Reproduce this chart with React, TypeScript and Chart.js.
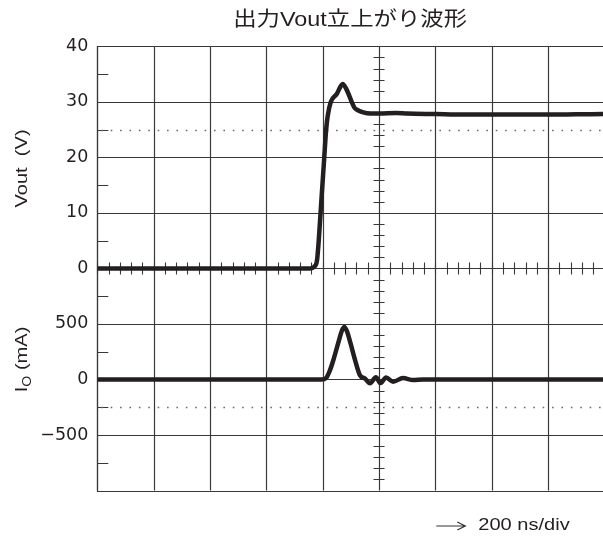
import React, { useEffect, useRef } from 'react';
import { Chart, registerables } from 'chart.js';

Chart.register(...registerables);

// ---- data (time in ns from left edge of the screen) ----
const voutTime = [0, 755, 770, 780, 786, 795, 805, 812, 818, 829, 850, 871, 885, 903, 912, 921, 944, 970, 1000, 1060, 1100, 1200, 1300, 1450, 1600, 1700, 1795];
const voutValues = [0, 0, 0.3, 1.5, 5, 12, 19.5, 24.8, 27.5, 30, 31.4, 33.2, 32.2, 30, 29.0, 28.6, 28.1, 27.9, 27.9, 28.0, 27.9, 27.8, 27.7, 27.7, 27.7, 27.75, 27.8];

const ioTime = [0, 796, 812, 826, 838, 855, 869, 877, 886, 899, 915, 932, 950, 968, 989, 1005, 1025, 1050, 1085, 1121, 1156, 1795];
const ioValues = [0, 0, 12, 84, 175, 327, 444, 473, 435, 324, 174, 39, 8, -35, 20, -33, 18, -20, 12, -5, 0, 0];

// ---- axes / scope settings ----
const voutTicks = [0, 10, 20, 30, 40];
const ioTicks = [500, 0, -500];
const ioTickText = ['500', '0', '\u2212500'];
const voutRange = [-40, 40];
const ioRange = [-1000, 3000];
const voutStep = 10;
const timeDiv = 200; // ns per division
const timeRange = [0, 1795];
const centerTime = 1000;
const dottedVout = 25;
const dottedIo = -250;

const titleText = '出力Vout立上がり波形';
const voutTitle = 'Vout  (V)';
const ioTitleMain = 'I';
const ioTitleSub = 'O';
const ioTitleRest = ' (mA)';
const timeNote = '200 ns/div';

const FONT = "'Liberation Sans', Arial, 'Noto Sans CJK JP', sans-serif";
const TICK_FONT = "'DejaVu Sans', 'Liberation Sans', sans-serif";
const TRACE = '#231f20';
const GRID = '#383838';
const STRETCH = 1.18;

const ioToY = (io: number) =>
  voutRange[0] + ((io - ioRange[0]) / (ioRange[1] - ioRange[0])) * (voutRange[1] - voutRange[0]);

const scopePlugin = {
  id: 'scope',
  beforeDatasetsDraw(chart: any) {
    const { ctx, chartArea: a, scales } = chart;
    const x = scales.x;
    const y = scales.y;
    const yI = scales.yI;
    const crisp = (p: number) => Math.round(p) + 0.5;
    ctx.save();
    ctx.beginPath();
    ctx.rect(a.left - 2, a.top - 2, a.right - a.left + 4, a.bottom - a.top + 4);
    ctx.clip();
    ctx.strokeStyle = GRID;
    ctx.lineWidth = 1.2;

    // vertical division lines
    ctx.beginPath();
    for (let t = timeRange[0]; t <= timeRange[1]; t += timeDiv) {
      const px = crisp(x.getPixelForValue(t));
      ctx.moveTo(px, a.top);
      ctx.lineTo(px, a.bottom);
    }
    // horizontal division lines (whole screen on Vout overlay scale)
    for (let v = voutRange[0]; v <= voutRange[1]; v += voutStep) {
      const py = crisp(y.getPixelForValue(v));
      ctx.moveTo(a.left, py);
      ctx.lineTo(a.right, py);
    }
    ctx.stroke();

    // minor ticks on the centre vertical line
    const cx = x.getPixelForValue(centerTime);
    ctx.beginPath();
    ctx.lineWidth = 1.1;
    for (let v = voutRange[0]; v <= voutRange[1]; v += voutStep / 5) {
      const py = crisp(y.getPixelForValue(v));
      ctx.moveTo(cx - 5.5, py);
      ctx.lineTo(cx + 5.5, py);
    }
    // minor ticks on Vout zero line
    const zy = y.getPixelForValue(0);
    for (let t = timeRange[0]; t <= timeRange[1]; t += timeDiv / 5) {
      const px = crisp(x.getPixelForValue(t));
      ctx.moveTo(px, zy - 6);
      ctx.lineTo(px, zy + 6);
    }
    // half-division ticks on left edge
    for (let v = voutRange[0] + voutStep / 2; v < voutRange[1]; v += voutStep) {
      const py = crisp(y.getPixelForValue(v));
      ctx.moveTo(a.left, py);
      ctx.lineTo(a.left + 11, py);
    }
    ctx.stroke();

    // dotted reference lines
    ctx.strokeStyle = '#6a6a6a';
    ctx.lineWidth = 1.6;
    const div = x.getPixelForValue(timeDiv) - x.getPixelForValue(0);
    ctx.setLineDash([1.6, div / 6 - 1.6]);
    ctx.beginPath();
    const d1 = crisp(y.getPixelForValue(dottedVout));
    const d2 = crisp(yI.getPixelForValue(dottedIo));
    ctx.moveTo(a.left + 4, d1);
    ctx.lineTo(a.right, d1);
    ctx.moveTo(a.left + 4, d2);
    ctx.lineTo(a.right, d2);
    ctx.stroke();
    ctx.setLineDash([]);

    // frame: left, top, bottom
    ctx.strokeStyle = GRID;
    ctx.lineWidth = 1.2;
    ctx.beginPath();
    const l = crisp(a.left);
    ctx.moveTo(a.right, crisp(a.top));
    ctx.lineTo(l, crisp(a.top));
    ctx.lineTo(l, crisp(a.bottom));
    ctx.lineTo(a.right, crisp(a.bottom));
    ctx.stroke();
    ctx.restore();
  },
  afterDraw(chart: any) {
    const { ctx, chartArea: a, scales } = chart;
    const y = scales.y;
    const yI = scales.yI;
    ctx.save();
    ctx.fillStyle = '#231f20';
    ctx.textBaseline = 'middle';

    // title (stretched like the original typesetting)
    ctx.save();
    ctx.font = `20px ${FONT}`;
    ctx.textAlign = 'center';
    ctx.translate((a.left + a.right) / 2, a.top - 26);
    ctx.scale(1.17, 1);
    ctx.fillText(titleText, 0, 0);
    ctx.restore();

    // Vout axis title
    ctx.save();
    ctx.font = `17px ${FONT}`;
    ctx.translate(a.left - 75, y.getPixelForValue(18));
    ctx.rotate(-Math.PI / 2);
    ctx.scale(STRETCH, 1);
    ctx.textAlign = 'center';
    ctx.fillText(voutTitle, 0, 0);
    ctx.restore();

    // Io axis title with subscript
    ctx.save();
    ctx.translate(a.left - 75, yI.getPixelForValue(180));
    ctx.rotate(-Math.PI / 2);
    ctx.scale(STRETCH, 1);
    ctx.textAlign = 'left';
    const mainFont = `17px ${FONT}`;
    const subFont = `12px ${FONT}`;
    ctx.font = mainFont;
    const w1 = ctx.measureText(ioTitleMain).width;
    const w3 = ctx.measureText(ioTitleRest).width;
    ctx.font = subFont;
    const w2 = ctx.measureText(ioTitleSub).width;
    let sx = -(w1 + w2 + w3) / 2;
    ctx.font = mainFont;
    ctx.fillText(ioTitleMain, sx, 0);
    sx += w1;
    ctx.font = subFont;
    ctx.fillText(ioTitleSub, sx, 5);
    sx += w2;
    ctx.font = mainFont;
    ctx.fillText(ioTitleRest, sx, 0);
    ctx.restore();

    // time/div note
    const ny = a.bottom + 35;
    const nx = a.left + 381;
    ctx.save();
    ctx.font = `17px ${FONT}`;
    ctx.textAlign = 'left';
    ctx.translate(nx, ny);
    ctx.scale(STRETCH, 1);
    ctx.fillText(timeNote, 0, 0);
    ctx.restore();
    // arrow
    ctx.strokeStyle = '#333';
    ctx.lineWidth = 1.2;
    ctx.beginPath();
    ctx.moveTo(nx - 42, ny + 0.5);
    ctx.lineTo(nx - 13, ny + 0.5);
    ctx.moveTo(nx - 21, ny - 3.5);
    ctx.lineTo(nx - 13, ny + 0.5);
    ctx.lineTo(nx - 21, ny + 4.5);
    ctx.stroke();
    ctx.restore();
  },
};

const labelMap = new Map<number, string>();
voutTicks.forEach((v) => labelMap.set(v, String(v)));
ioTicks.forEach((v, i) => labelMap.set(ioToY(v), ioTickText[i]));

export default function App() {
  const ref = useRef<HTMLCanvasElement | null>(null);
  useEffect(() => {
    document.body.style.margin = '0';
    document.body.style.overflow = 'hidden';
    if (!ref.current) return;
    const chart = new Chart(ref.current, {
      type: 'line',
      data: {
        datasets: [
          {
            label: 'Vout',
            data: voutTime.map((t, i) => ({ x: t, y: voutValues[i] })),
            yAxisID: 'y',
            borderColor: TRACE,
            borderWidth: 4.5,
            pointRadius: 0,
            cubicInterpolationMode: 'monotone',
            fill: false,
          },
          {
            label: 'Io',
            data: ioTime.map((t, i) => ({ x: t, y: ioValues[i] })),
            yAxisID: 'yI',
            borderColor: TRACE,
            borderWidth: 4.5,
            pointRadius: 0,
            cubicInterpolationMode: 'monotone',
            fill: false,
          },
        ],
      },
      options: {
        responsive: false,
        animation: false,
        devicePixelRatio: 1,
        layout: { padding: { top: 46.3, bottom: 48.5, left: 0, right: 0 } },
        plugins: { legend: { display: false }, tooltip: { enabled: false }, title: { display: false } },
        scales: {
          x: { type: 'linear', min: timeRange[0], max: timeRange[1], display: false },
          y: {
            type: 'linear',
            position: 'left',
            min: voutRange[0],
            max: voutRange[1],
            grid: { display: false, drawTicks: false },
            border: { display: false },
            afterBuildTicks: (scale: any) => {
              scale.ticks = Array.from(labelMap.keys()).sort((p, q) => p - q).map((v) => ({ value: v }));
            },
            afterFit: (scale: any) => {
              scale.width = 97.3;
            },
            ticks: {
              padding: 9,
              color: '#231f20',
              font: { family: TICK_FONT, size: 17.5 },
              callback: (value: any) => labelMap.get(Number(value)) ?? '',
            },
          },
          yI: { type: 'linear', min: ioRange[0], max: ioRange[1], display: false },
        },
      },
      plugins: [scopePlugin],
    } as any);
    return () => chart.destroy();
  }, []);
  return (
    <div style={{ width: 603, height: 539, overflow: 'hidden' }}>
      <canvas ref={ref} width={603} height={539} style={{ display: 'block', width: 603, height: 539 }} />
    </div>
  );
}
